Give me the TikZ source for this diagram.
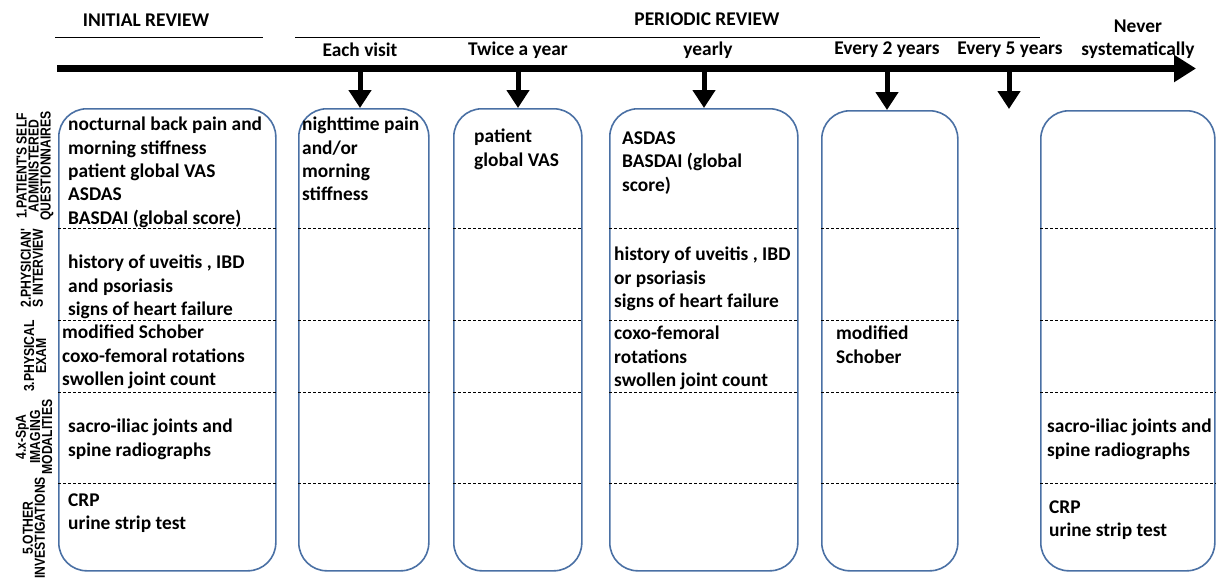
\documentclass[tikz,border=0pt]{standalone}
\usepackage{fontspec}
\setmainfont{Carlito}
\newfontfamily\sidefont[FakeStretch=0.84]{Liberation Sans}
\usepackage{xcolor}
\usetikzlibrary{positioning,arrows.meta,calc}
\definecolor{boxblue}{RGB}{74,112,164}

\begin{document}
\begin{tikzpicture}[
          x=1pt, y=-1pt,
          head/.style={font=\bfseries\fontsize{19.4}{23}\selectfont, align=center, inner sep=0},
          colbox/.style={draw=boxblue, line width=1.6pt, rounded corners=28pt, anchor=north west, inner sep=0},
          item/.style={font=\bfseries\fontsize{19.4}{23.3}\selectfont, align=left, anchor=north west, inner sep=0},
          side/.style={font=\sidefont\bfseries\fontsize{14.5}{12}\selectfont, align=center, rotate=90, inner sep=0},
          sep/.style={densely dashed, line width=0.5pt},
          timeline/.style={-{Triangle[length=22pt, width=26pt]}, line width=7pt},
          drop/.style={-{Triangle[length=18pt, width=22pt]}, line width=5pt}
      ]
        \useasboundingbox (0,0) rectangle (1218,579);
        \node[head] (initial) at (146,20) {INITIAL REVIEW};
        \node[head] (periodic) at (707,19) {PERIODIC REVIEW};
        \draw[line width=0.6pt] (55,37) -- (263,37);
        \draw[line width=0.6pt] (295,37) -- (1040,37);
        \node[head] (visit) at (360,50) {Each visit};
        \node[head] (twice) at (518,50) {Twice a year};
        \node[head] (yearly) at (708,50) {yearly};
        \node[head] (two) at (887,50) {Every 2 years};
        \node[head] (five) at (1010,50) {Every 5 years};
        \node[head] (never) at (1138,39) {Never\\systematically};
        \coordinate (tl0) at (57,68.5);
        \coordinate (tl1) at (1196,68.5);
        \draw[timeline] (tl0) -- (tl1);
        \node[colbox, minimum width=217pt, minimum height=462pt] (bInit) at (58,108) {};
        \node[colbox, minimum width=130pt, minimum height=462pt] (bVisit) at (298,108) {};
        \node[colbox, minimum width=128pt, minimum height=462pt] (bTwice) at (453,108) {};
        \node[colbox, minimum width=188pt, minimum height=462pt] (bYearly) at (609,108) {};
        \node[colbox, minimum width=136pt, minimum height=460pt] (bTwo) at (821,110) {};
        \node[colbox, minimum width=174pt, minimum height=460pt] (bNever) at (1040,110) {};
        \coordinate (k1) at (360,72);
        \coordinate (k2) at (518,72);
        \coordinate (k3) at (704,72);
        \coordinate (k4) at (887,72);
        \coordinate (k5) at (1009,72);
        \coordinate (k5end) at (1009,109);
        \draw[drop] (k1) -- (k1 |- bVisit.north);
        \draw[drop] (k2) -- (k2 |- bTwice.north);
        \draw[drop] (k3) -- (k3 |- bYearly.north);
        \draw[drop] (k4) -- (k4 |- bTwo.north);
        \draw[drop] (k5) -- (k5end);
        \foreach \b in {bInit,bVisit,bTwice,bYearly,bTwo,bNever}
          \foreach \y in {228,320,392,483}
            \draw[sep] (\b.west |- 0,\y) -- (\b.east |- 0,\y);
        \node[side] (q1) at (35,166) {1.PATIENT'S SELF\\ADMINISTERED\\QUESTIONNAIRES};
        \node[side] (q2) at (32,268) {2.PHYSICIAN'\\S INTERVIEW};
        \node[side] (q3) at (35,356) {3.PHYSICAL\\EXAM};
        \node[side] (q4) at (34,437) {4.x-SpA\\IMAGING\\MODALITIES};
        \node[side] (q5) at (34,528) {5.OTHER\\INVESTIGATIONS};
        \node[item] (i11) at (68,117) {nocturnal back pain and\\morning stiffness\\patient global VAS\\ASDAS\\BASDAI (global score)};
        \node[item] (i12) at (68,255) {history of uveitis , IBD\\and psoriasis\\signs of heart failure};
        \node[item] (i13) at (62,325) {modified Schober\\coxo-femoral rotations\\swollen joint count};
        \node[item] (i14) at (68,419) {sacro-iliac joints and\\spine radiographs};
        \node[item] (i15) at (68,493.5) {CRP\\urine strip test};
        \node[item] (i21) at (302,117) {nighttime pain\\and/or\\morning\\stiffness};
        \node[item] (i31) at (474,129) {patient\\global VAS};
        \node[item] (i41) at (622,131.5) {ASDAS\\BASDAI (global\\score)};
        \node[item] (i42) at (614,247) {history of uveitis , IBD\\or psoriasis\\signs of heart failure};
        \node[item] (i43) at (614,326) {coxo-femoral\\rotations\\swollen joint count};
        \node[item] (i53) at (836,326) {modified\\Schober};
        \node[item] (i64) at (1047,419) {sacro-iliac joints and\\spine radiographs};
        \node[item] (i65) at (1049,500.5) {CRP\\urine strip test};
      \end{tikzpicture}
\end{document}
